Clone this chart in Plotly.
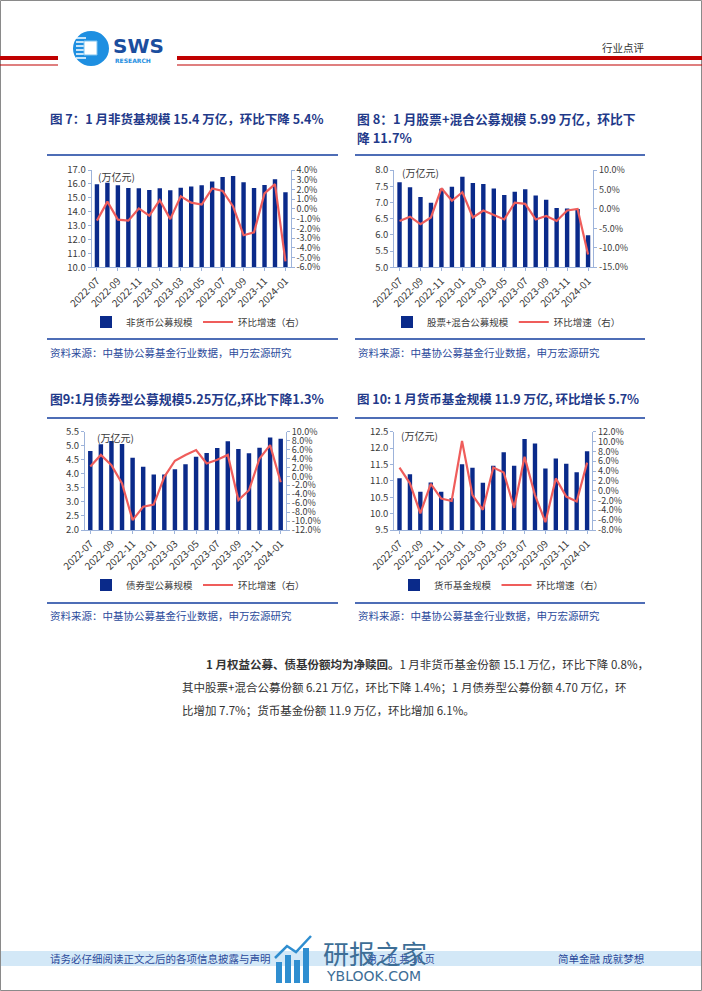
import plotly.graph_objects as go

W, H = 702, 991

# ---------------- data ----------------
months = ["2022-07", "2022-08", "2022-09", "2022-10", "2022-11", "2022-12",
          "2023-01", "2023-02", "2023-03", "2023-04", "2023-05", "2023-06",
          "2023-07", "2023-08", "2023-09", "2023-10", "2023-11", "2023-12",
          "2024-01"]
tick_months = ["2022-07", "2022-09", "2022-11", "2023-01", "2023-03",
               "2023-05", "2023-07", "2023-09", "2023-11", "2024-01"]

nonmoney_scale = [15.97, 16.09, 15.90, 15.70, 15.68, 15.56, 15.68, 15.54, 15.73, 15.82,
                  15.90, 16.18, 16.50, 16.57, 16.11, 15.70, 15.92, 16.33, 15.40]
nonmoney_growth = [-1.2, 0.75, -1.1, -1.2, 0.05, -0.7, 0.9, -1.05, 1.3, 0.65,
                   0.45, 2.1, 1.85, 0.25, -2.7, -2.4, 1.6, 2.55, -5.4]

equity_scale = [7.62, 7.47, 7.17, 6.99, 7.42, 7.48, 7.79, 7.60, 7.57, 7.43,
                7.23, 7.33, 7.41, 7.21, 7.08, 6.83, 6.81, 6.80, 5.99]
equity_growth = [-3.1, -2.0, -3.9, -2.2, 5.3, 2.1, 4.3, -2.2, -0.4, -1.6,
                 -2.7, 1.6, 1.3, -2.7, -1.8, -3.1, -0.4, 0.0, -11.7]

bond_scale = [4.81, 5.05, 5.17, 5.06, 4.57, 4.25, 3.98, 3.98, 4.16, 4.34,
              4.61, 4.74, 4.92, 5.16, 4.88, 4.73, 4.93, 5.29, 5.25]
bond_growth = [2.2, 4.8, 2.5, -1.6, -9.8, -6.8, -6.3, -0.1, 3.5, 4.8,
               5.9, 2.9, 3.7, 4.8, -5.3, -3.1, 4.0, 7.0, -1.3]

money_scale = [11.08, 11.20, 10.67, 10.95, 10.67, 10.47, 11.51, 11.40, 10.94, 11.46,
               11.87, 11.46, 12.28, 12.14, 11.38, 11.68, 11.52, 11.26, 11.90]
money_growth = [4.7, 1.5, -4.6, 1.4, -1.6, -2.1, 10.1, -0.9, -3.9, 4.7,
                3.7, -3.5, 6.9, -0.9, -6.4, 2.5, -1.2, -2.2, 5.7]

left_ticks_1 = [10, 11, 12, 13, 14, 15, 16, 17]
right_ticks_1 = [4, 3, 2, 1, 0, -1, -2, -3, -4, -5, -6]
left_ticks_2 = [5.0, 5.5, 6.0, 6.5, 7.0, 7.5, 8.0]
right_ticks_2 = [10, 5, 0, -5, -10, -15]
left_ticks_3 = [2.0, 2.5, 3.0, 3.5, 4.0, 4.5, 5.0, 5.5]
right_ticks_3 = [10, 8, 6, 4, 2, 0, -2, -4, -6, -8, -10, -12]
left_ticks_4 = [9.5, 10.0, 10.5, 11.0, 11.5, 12.0, 12.5]
right_ticks_4 = [12, 10, 8, 6, 4, 2, 0, -2, -4, -6, -8]

bar_names = ["非货币公募规模", "股票+混合公募规模", "债券型公募规模", "货币基金规模"]
line_name = "环比增速（右）"
titles = ["图 7：1 月非货基规模 15.4 万亿，环比下降 5.4%",
          "图 8：1 月股票+混合公募规模 5.99 万亿，环比下",
          "图9:1月债券型公募规模5.25万亿,环比下降1.3%",
          "图 10: 1 月货币基金规模 11.9 万亿, 环比增长 5.7%"]
source_text = "资料来源：中基协公募基金行业数据，申万宏源研究"

# ---------------- styling ----------------
FONT = "Noto Sans CJK SC, Noto Sans, sans-serif"
BAR_C = "#0A2A8A"
LINE_C = "#EF5D5B"
AXIS_C = "#9DB3DA"
TICK_C = "#3A3A3A"
TITLE_C = "#1F3A8A"
SRC_C = "#2B4A9B"
FRAME_C = "#4E6DB6"


def X(px):
    return px / W


def Y(py):
    return 1 - py / H


def fmt_pct(v):
    return f"{v:.1f}%"


charts = [
    dict(bars=nonmoney_scale, growth=nonmoney_growth, lt=left_ticks_1, rt=right_ticks_1,
         xd=(91.7, 290.7), yd=(170, 267.3), leg=(86, 322), unit=(96, 176)),
    dict(bars=equity_scale, growth=equity_growth, lt=left_ticks_2, rt=right_ticks_2,
         xd=(394.3, 593.3), yd=(170, 267.3), leg=(387, 322), unit=(400, 172)),
    dict(bars=bond_scale, growth=bond_growth, lt=left_ticks_3, rt=right_ticks_3,
         xd=(85, 286), yd=(431.7, 530), leg=(86, 585), unit=(95, 437)),
    dict(bars=money_scale, growth=money_growth, lt=left_ticks_4, rt=right_ticks_4,
         xd=(394.3, 592.3), yd=(431.7, 530), leg=(394, 585), unit=(399, 436)),
]

fig = go.Figure()
layout = dict(
    template="none",
    width=W, height=H, margin=dict(l=0, r=0, t=0, b=0, pad=0, autoexpand=False),
    autosize=False,
    paper_bgcolor="white", plot_bgcolor="rgba(0,0,0,0)",
    font=dict(family=FONT, size=10, color=TICK_C),
    showlegend=True,
)

TICKF = dict(size=9, color=TICK_C, family=FONT)

for i, c in enumerate(charts):
    k = i + 1
    xa = "x" if k == 1 else f"x{k}"
    yl = 2 * k - 1
    yr = 2 * k
    yl_ref = "y" if yl == 1 else f"y{yl}"
    yr_ref = f"y{yr}"
    leg = "legend" if k == 1 else f"legend{k}"

    fig.add_trace(go.Bar(x=months, y=c["bars"], name=bar_names[i], marker_color=BAR_C,
                         marker_line_width=0, width=0.42, xaxis=xa, yaxis=yl_ref, legend=leg))
    fig.add_trace(go.Scatter(x=months, y=c["growth"], name=line_name, mode="lines",
                             line=dict(color=LINE_C, width=2.2), xaxis=xa, yaxis=yr_ref,
                             legend=leg))

    xkey = "xaxis" if k == 1 else f"xaxis{k}"
    ylkey = "yaxis" if yl == 1 else f"yaxis{yl}"
    yrkey = f"yaxis{yr}"
    layout[xkey] = dict(
        domain=[X(c["xd"][0]), X(c["xd"][1])], anchor=yl_ref, type="category",
        categoryorder="array", categoryarray=months, range=[-0.5, len(months) - 0.5],
        tickmode="array", tickvals=tick_months, ticktext=tick_months, tickangle=-45,
        showline=True, linecolor=AXIS_C, linewidth=1, ticks="outside", ticklen=3,
        tickcolor=AXIS_C, showgrid=False, zeroline=False, automargin=False,
        tickfont=dict(size=10, color=TICK_C, family=FONT), fixedrange=True,
    )
    lt = c["lt"]
    layout[ylkey] = dict(
        domain=[Y(c["yd"][1]), Y(c["yd"][0])], anchor=xa, side="left",
        range=[min(lt), max(lt)], tickmode="array", tickvals=lt,
        ticktext=[f"{v:.1f}" for v in lt], showline=True, linecolor=AXIS_C, linewidth=1,
        ticks="outside", ticklen=3, tickcolor=AXIS_C, showgrid=False, zeroline=False,
        automargin=False, tickfont=dict(size=9.5, color=TICK_C, family=FONT),
        fixedrange=True,
    )
    rt = c["rt"]
    layout[yrkey] = dict(
        overlaying=yl_ref, anchor=xa, side="right",
        range=[min(rt), max(rt)], tickmode="array", tickvals=rt,
        ticktext=[fmt_pct(v) for v in rt], showline=True, linecolor=AXIS_C, linewidth=1,
        ticks="outside", ticklen=3, tickcolor=AXIS_C, showgrid=False, zeroline=False,
        automargin=False, tickfont=TICKF, fixedrange=True,
    )
    layout[leg] = dict(
        orientation="h", x=X(c["leg"][0]), y=Y(c["leg"][1]), xanchor="left",
        yanchor="middle", bgcolor="rgba(0,0,0,0)", itemwidth=30, borderwidth=0,
        font=dict(size=9.5, color=TICK_C, family=FONT), itemclick=False,
        itemdoubleclick=False,
    )

fig.update_layout(**layout)

shapes = []
annotations = []

# page border
shapes.append(dict(type="rect", xref="paper", yref="paper", x0=X(0.5), x1=X(701.5),
                   y0=Y(990.5), y1=Y(0.5), line=dict(color="#8A8A8A", width=1)))

# header red lines
for (a, b) in [(0, 58), (177, 702)]:
    shapes.append(dict(type="line", xref="paper", yref="paper", x0=X(a), x1=X(b),
                       y0=Y(58), y1=Y(58), line=dict(color="#C00000", width=4)))
    shapes.append(dict(type="line", xref="paper", yref="paper", x0=X(a), x1=X(b),
                       y0=Y(65), y1=Y(65), line=dict(color="#C00000", width=1.2)))

# logo
shapes.append(dict(type="circle", xref="paper", yref="paper", x0=X(73), x1=X(109),
                   y0=Y(66), y1=Y(31), fillcolor="#1E8FE1", line=dict(width=0)))
for yy in [38, 42, 46, 50, 54, 58]:
    shapes.append(dict(type="line", xref="paper", yref="paper", x0=X(76), x1=X(86),
                       y0=Y(yy), y1=Y(yy), line=dict(color="white", width=1.5)))
shapes.append(dict(type="rect", xref="paper", yref="paper", x0=X(84), x1=X(97),
                   y0=Y(55), y1=Y(41), fillcolor="white", line=dict(color="#7FC3F0", width=1)))
annotations.append(dict(x=X(111), y=Y(46), xref="paper", yref="paper", xanchor="left",
                        yanchor="middle", showarrow=False, text="<b>SWS</b>",
                        font=dict(family="DejaVu Sans, sans-serif", size=20, color="#1B4E9E")))
annotations.append(dict(x=X(113), y=Y(60), xref="paper", yref="paper", xanchor="left",
                        yanchor="middle", showarrow=False, text="<b>RESEARCH</b>",
                        font=dict(family="DejaVu Sans, sans-serif", size=6, color="#1E8FE1")))
annotations.append(dict(x=X(647), y=Y(48), xref="paper", yref="paper", xanchor="right",
                        yanchor="middle", showarrow=False, text="行业点评",
                        font=dict(family=FONT, size=10.5, color="#333333")))

# chart titles
title_pos = [(48, 118), (355, 118), (48, 398), (355, 398)]
title_sizes = [12.5, 12.8, 12.8, 12.5]
for t, (tx, ty), ts in zip(titles, title_pos, title_sizes):
    annotations.append(dict(x=X(tx), y=Y(ty), xref="paper", yref="paper", xanchor="left",
                            yanchor="middle", showarrow=False, text=f"<b>{t}</b>",
                            font=dict(family=FONT, size=ts, color=TITLE_C)))
annotations.append(dict(x=X(355), y=Y(137), xref="paper", yref="paper", xanchor="left",
                        yanchor="middle", showarrow=False, text="<b>降 11.7%</b>",
                        font=dict(family=FONT, size=12.8, color=TITLE_C)))

# frames and sources
frames = [((47, 338), 155, 339, 352), ((355, 645), 155, 339, 352),
          ((47, 338), 418, 603, 615), ((355, 645), 418, 603, 615)]
for (xs, yt, yb, ys) in frames:
    for yy in (yt, yb):
        shapes.append(dict(type="line", xref="paper", yref="paper", x0=X(xs[0]), x1=X(xs[1]),
                           y0=Y(yy), y1=Y(yy), line=dict(color=FRAME_C, width=2)))
    annotations.append(dict(x=X(xs[0] + 1), y=Y(ys), xref="paper", yref="paper",
                            xanchor="left", yanchor="middle", showarrow=False,
                            text=source_text, font=dict(family=FONT, size=10.5, color=SRC_C)))

# unit labels
for c in charts:
    annotations.append(dict(x=X(c["unit"][0]), y=Y(c["unit"][1]), xref="paper", yref="paper",
                            xanchor="left", yanchor="middle", showarrow=False, text="(万亿元)",
                            font=dict(family=FONT, size=10, color=TICK_C)))

# body text
body = [
    (204, 664, "<b>1 月权益公募、债基份额均为净赎回。</b>1 月非货币基金份额 15.1 万亿，环比下降 0.8%，"),
    (180, 687, "其中股票+混合公募份额 6.21 万亿，环比下降 1.4%；1 月债券型公募份额 4.70 万亿，环"),
    (180, 710, "比增加 7.7%；货币基金份额 11.9 万亿，环比增加 6.1%。"),
]
for bx, by, bt in body:
    annotations.append(dict(x=X(bx), y=Y(by), xref="paper", yref="paper", xanchor="left",
                            yanchor="middle", showarrow=False, text=bt,
                            font=dict(family=FONT, size=11.5, color="#333333")))

# footer band
shapes.append(dict(type="rect", xref="paper", yref="paper", x0=X(1), x1=X(701),
                   y0=Y(966), y1=Y(951), fillcolor="#D3E8F7", line=dict(width=0),
                   layer="below"))
annotations.append(dict(x=X(48), y=Y(958), xref="paper", yref="paper", xanchor="left",
                        yanchor="middle", showarrow=False,
                        text="请务必仔细阅读正文之后的各项信息披露与声明",
                        font=dict(family=FONT, size=10.5, color=SRC_C)))
annotations.append(dict(x=X(646), y=Y(958), xref="paper", yref="paper", xanchor="right",
                        yanchor="middle", showarrow=False, text="简单金融 成就梦想",
                        font=dict(family=FONT, size=10.5, color=SRC_C)))
annotations.append(dict(x=X(437), y=Y(958), xref="paper", yref="paper", xanchor="right",
                        yanchor="middle", showarrow=False, text="第 7 页 共 10 页",
                        font=dict(family=FONT, size=10, color=SRC_C)))

# watermark
for (bx0, by0) in [(276, 962), (285, 955), (294, 960), (303, 948)]:
    shapes.append(dict(type="rect", xref="paper", yref="paper", x0=X(bx0), x1=X(bx0 + 6),
                       y0=Y(983), y1=Y(by0), fillcolor="#2F8ED0", line=dict(width=0)))
shapes.append(dict(type="path", xref="paper", yref="paper",
                   path=f"M {X(275)},{Y(958)} L {X(287)},{Y(946)} L {X(296)},{Y(952)} L {X(311)},{Y(936)}",
                   line=dict(color="#2F8ED0", width=2.5)))
annotations.append(dict(x=X(321), y=Y(952), xref="paper", yref="paper", xanchor="left",
                        yanchor="middle", showarrow=False, text="研报之家",
                        font=dict(family=FONT, size=26, color="#3D6E96")))
annotations.append(dict(x=X(324), y=Y(976), xref="paper", yref="paper", xanchor="left",
                        yanchor="middle", showarrow=False, text="YBLOOK.COM",
                        font=dict(family="DejaVu Sans, sans-serif", size=14, color="#3D6E96")))

fig.update_layout(shapes=shapes, annotations=annotations)
fig.write_html("out.html", config={"displayModeBar": False, "staticPlot": True},
               post_script="document.body.style.margin='0';document.body.style.overflow='hidden';")
